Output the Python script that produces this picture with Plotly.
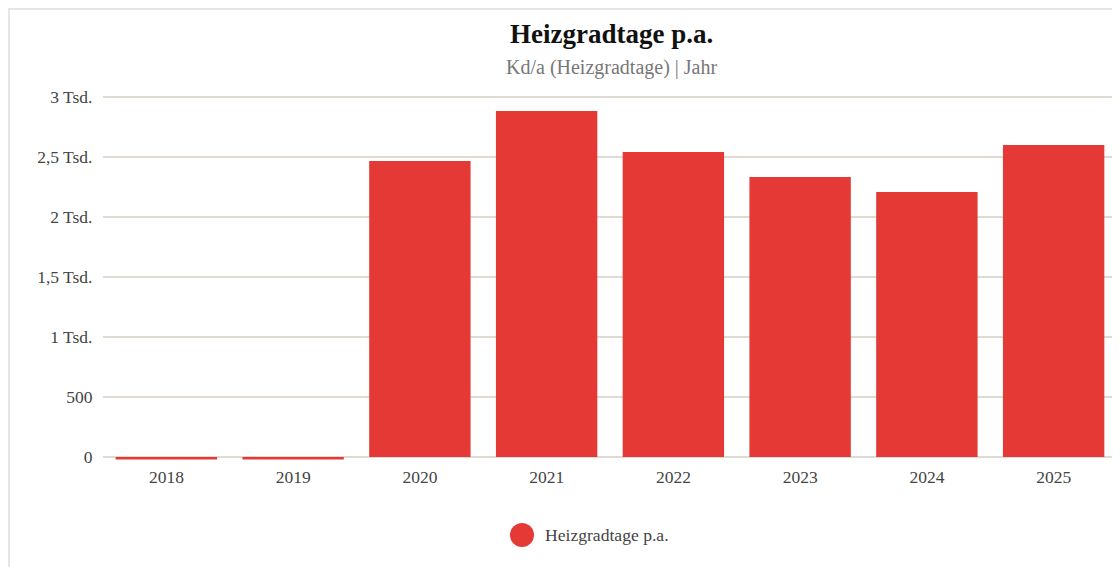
import plotly.graph_objects as go

years = ["2018", "2019", "2020", "2021", "2022", "2023", "2024", "2025"]
heizgradtage = [-20, -20, 2467, 2883, 2542, 2333, 2208, 2600]
series_name = "Heizgradtage p.a."
tick_vals = [0, 500, 1000, 1500, 2000, 2500, 3000]
tick_text = ["0", "500", "1 Tsd.", "1,5 Tsd.", "2 Tsd.", "2,5 Tsd.", "3 Tsd."]

RED = "#e53935"
FONT = "Liberation Serif, DejaVu Serif, serif"

# figure coordinates (page is offset by 8px body margin)
W, H = 1112, 559
ML, MT = 95, 86
PLOT_R, PLOT_B = 1109, 452
MR, MB = W - PLOT_R, H - PLOT_B
pw, ph = W - ML - MR, H - MT - MB


def px_x(p):
    return (p - ML) / pw


def px_y(p):
    return 1 - (p - MT) / ph


fig = go.Figure()
fig.add_trace(go.Bar(x=years, y=heizgradtage, marker=dict(color=RED, line=dict(width=0)),
                     name=series_name, showlegend=False))

# frame of the card
fig.add_shape(type="rect", xref="paper", yref="paper",
              x0=px_x(0.5), x1=px_x(1130), y0=px_y(0.5), y1=px_y(600),
              line=dict(color="#e6e6e6", width=3), fillcolor="rgba(0,0,0,0)", layer="below")

fig.add_annotation(text="<b>Heizgradtage p.a.</b>", xref="paper", yref="paper",
                   x=px_x(603), y=px_y(26), showarrow=False,
                   font=dict(family=FONT, size=27, color="#111111"), xanchor="center", yanchor="middle")
fig.add_annotation(text="Kd/a (Heizgradtage) | Jahr", xref="paper", yref="paper",
                   x=px_x(603), y=px_y(60), showarrow=False,
                   font=dict(family=FONT, size=20, color="#777777"), xanchor="center", yanchor="middle")

# legend
fig.add_shape(type="circle", xref="paper", yref="paper",
              x0=px_x(502), x1=px_x(526), y0=px_y(515), y1=px_y(539),
              fillcolor=RED, line=dict(width=0))
fig.add_annotation(text=series_name, xref="paper", yref="paper",
                   x=px_x(535), y=px_y(527), showarrow=False,
                   font=dict(family=FONT, size=17.6, color="#444444"), xanchor="left", yanchor="middle")

fig.update_layout(
    width=W, height=H,
    margin=dict(l=ML, r=MR, t=MT, b=MB),
    paper_bgcolor="white", plot_bgcolor="white",
    bargap=0.2,
    showlegend=False,
    font=dict(family=FONT, size=17.5, color="#444444"),
)
fig.update_xaxes(showgrid=False, showline=False, ticks="outside", ticklen=1,
                 tickcolor="rgba(0,0,0,0)", tickfont=dict(size=17.5, color="#444444"))
fig.update_yaxes(range=[-25, 3025], tickvals=tick_vals, ticktext=tick_text,
                 showgrid=True, gridcolor="#e0dbd2", gridwidth=2,
                 zeroline=True, zerolinecolor="#e0dbd2", zerolinewidth=2,
                 ticks="outside", ticklen=6, tickcolor="rgba(0,0,0,0)",
                 tickfont=dict(size=17.5, color="#444444"))

fig.write_html("out.html")
